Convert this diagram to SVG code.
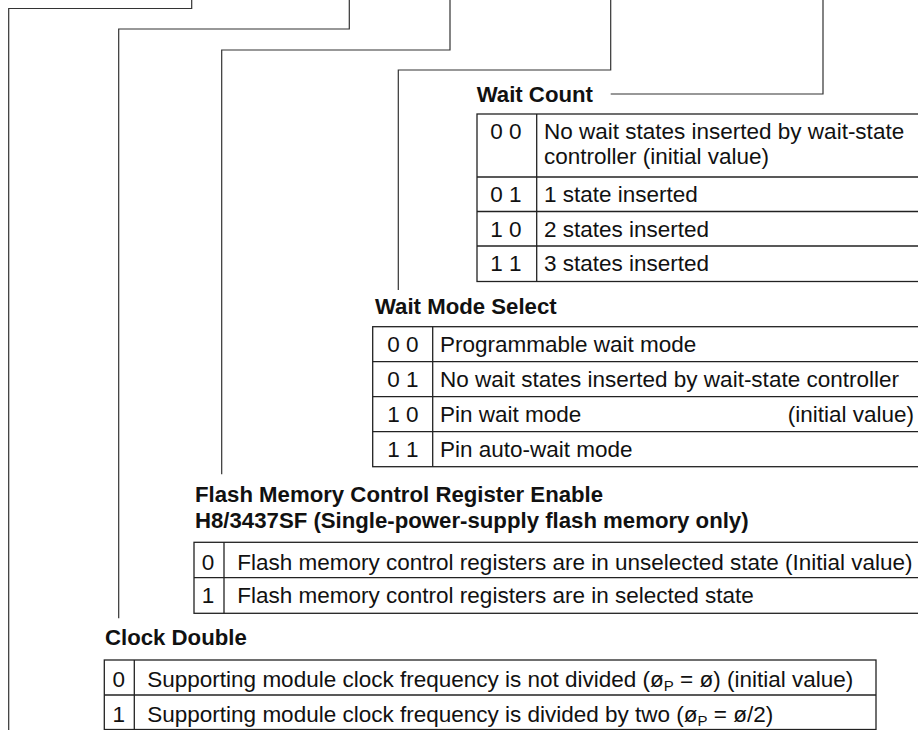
<svg xmlns="http://www.w3.org/2000/svg" width="918" height="730" viewBox="0 0 918 730">
<style>
  .lead { fill: none; stroke: #333; stroke-width: 1.2; }
  .tb { fill: none; stroke: #222; stroke-width: 1.3; }
  .t { font-family: "Liberation Sans", Arial, Helvetica, sans-serif; font-size: 22.5px; fill: #111; }
  .h { font-family: "Liberation Sans", Arial, Helvetica, sans-serif; font-size: 22.2px; font-weight: bold; fill: #111; }
  .c { text-anchor: middle; }
  .sub { font-size: 15px; }
</style>
<rect width="918" height="730" fill="#fff"/>
<g id="connectors">
  <polyline class="lead" points="191.7,0 191.7,8.5 8.7,8.5 8.7,730"/>
  <polyline class="lead" points="349.3,0 349.3,29 118.7,29 118.7,618.3"/>
  <polyline class="lead" points="450,0 450,50 221.7,50 221.7,474.3"/>
  <polyline class="lead" points="610.7,0 610.7,70 398.3,70 398.3,290"/>
  <polyline class="lead" points="823,0 823,94 610.7,94"/>
</g>
<g id="wait-count">
  <text class="h" x="476.7" y="101.7">Wait Count</text>
  <rect class="tb" x="477" y="114" width="460" height="167.5"/>
  <line class="tb" x1="536.7" y1="114" x2="536.7" y2="281.5"/>
  <line class="tb" x1="477" y1="177" x2="930" y2="177"/>
  <line class="tb" x1="477" y1="211.5" x2="930" y2="211.5"/>
  <line class="tb" x1="477" y1="246" x2="930" y2="246"/>
  <text class="t c" x="506" y="139.3">0 0</text>
  <text class="t" x="544" y="139.3">No wait states inserted by wait-state</text>
  <text class="t" x="544" y="164">controller (initial value)</text>
  <text class="t c" x="506" y="202">0 1</text>
  <text class="t" x="544" y="202">1 state inserted</text>
  <text class="t c" x="506" y="236.5">1 0</text>
  <text class="t" x="544" y="236.5">2 states inserted</text>
  <text class="t c" x="506" y="271">1 1</text>
  <text class="t" x="544" y="271">3 states inserted</text>
</g>
<g id="wait-mode-select">
  <text class="h" x="375" y="314.3">Wait Mode Select</text>
  <rect class="tb" x="372.7" y="326.7" width="560" height="140"/>
  <line class="tb" x1="432.7" y1="326.7" x2="432.7" y2="466.7"/>
  <line class="tb" x1="372.7" y1="361.7" x2="930" y2="361.7"/>
  <line class="tb" x1="372.7" y1="396.7" x2="930" y2="396.7"/>
  <line class="tb" x1="372.7" y1="431.7" x2="930" y2="431.7"/>
  <text class="t c" x="402.8" y="351.7">0 0</text>
  <text class="t" x="440" y="351.7">Programmable wait mode</text>
  <text class="t c" x="402.8" y="386.7">0 1</text>
  <text class="t" x="440" y="386.7">No wait states inserted by wait-state controller</text>
  <text class="t c" x="402.8" y="421.7">1 0</text>
  <text class="t" x="440" y="421.7">Pin wait mode</text>
  <text class="t" x="914" y="421.7" text-anchor="end">(initial value)</text>
  <text class="t c" x="402.8" y="456.7">1 1</text>
  <text class="t" x="440" y="456.7">Pin auto-wait mode</text>
</g>
<g id="flash-memory-control-register-enable">
  <text class="h" x="195" y="501.7">Flash Memory Control Register Enable</text>
  <text class="h" x="195" y="527.5">H8/3437SF (Single-power-supply flash memory only)</text>
  <rect class="tb" x="194" y="542.3" width="740" height="71"/>
  <line class="tb" x1="224" y1="542.3" x2="224" y2="613.3"/>
  <line class="tb" x1="194" y1="577.7" x2="930" y2="577.7"/>
  <text class="t c" x="208" y="569.5">0</text>
  <text class="t" x="237.3" y="569.5">Flash memory control registers are in unselected state (Initial value)</text>
  <text class="t c" x="208" y="603.3">1</text>
  <text class="t" x="237.3" y="603.3">Flash memory control registers are in selected state</text>
</g>
<g id="clock-double">
  <text class="h" x="105" y="645">Clock Double</text>
  <rect class="tb" x="104.3" y="660" width="771.7" height="69.5"/>
  <line class="tb" x1="134.3" y1="660" x2="134.3" y2="730"/>
  <line class="tb" x1="104.3" y1="695" x2="876" y2="695"/>
  <text class="t c" x="118.7" y="686.7">0</text>
  <text class="t" x="147.3" y="686.7">Supporting module clock frequency is not divided (ø<tspan class="sub" dy="4">P</tspan><tspan dy="-4"> = ø) (initial value)</tspan></text>
  <text class="t c" x="118.7" y="721.7">1</text>
  <text class="t" x="147.3" y="721.7">Supporting module clock frequency is divided by two (ø<tspan class="sub" dy="4">P</tspan><tspan dy="-4"> = ø/2)</tspan></text>
</g>
</svg>
